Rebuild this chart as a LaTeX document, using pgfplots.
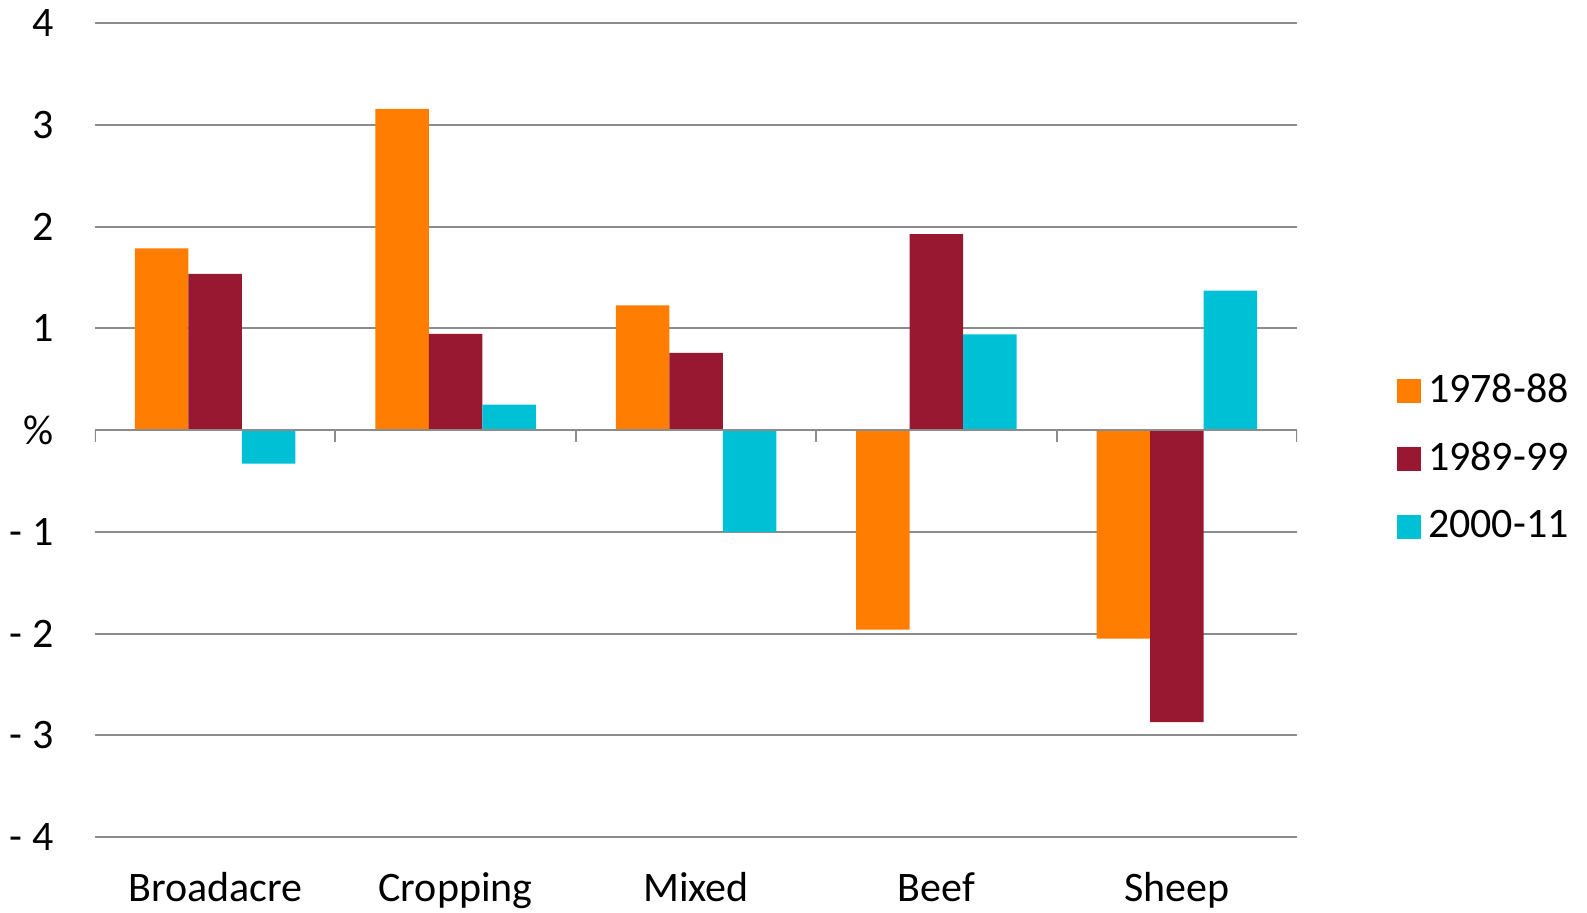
\documentclass[border=0pt]{standalone}
\usepackage{fontspec}
\setmainfont{Carlito}
\usepackage{pgfplots}
\pgfplotsset{compat=1.18}
\definecolor{cOrange}{RGB}{255,125,0}
\definecolor{cMaroon}{RGB}{151,24,48}
\definecolor{cCyan}{RGB}{0,192,214}
\definecolor{cGrid}{RGB}{140,140,140}

\begin{document}
\fontsize{21}{25}\selectfont
\begin{tikzpicture}
\begin{axis}[
  at={(47.5pt,37.5pt)}, anchor=south west,
  scale only axis, width=601pt, height=407pt,
  xmin=-0.5, xmax=4.5, ymin=-4, ymax=4,
  ybar=0pt, bar width=26.75pt,
  xtick={0,1,2,3,4},
  xticklabels={Broadacre,Cropping,Mixed,Beef,Sheep},
  ytick={-4,-3,-2,-1,0,1,2,3,4},
  yticklabels={- 4,- 3,- 2,- 1,\%,1,2,3,4},
  ymajorgrids,
  major grid style={cGrid, line width=1pt},
  axis line style={draw=none},
  tick style={draw=none},
  xticklabel style={anchor=base, yshift=-28pt, inner sep=0pt},
  yticklabel style={anchor=east, xshift=-20.5pt, inner sep=0pt},
  legend image code/.code={\fill[#1] (0pt,-6pt) rectangle (12pt,6pt);},
  legend style={draw=none, fill=none, at={(rel axis cs:1.0832,0.4647)},
    anchor=west, inner sep=0pt, outer sep=0pt,
    nodes={inner sep=0pt}, column sep=3.5pt, row sep=16.6pt},
  legend cell align=left,
]
% 1978-88
\addplot[fill=cOrange, draw=none] coordinates {
  (0,1.784) (1,3.157) (2,1.226) (3,-1.961) (4,-2.05)};
\addlegendentry{1978-88}
% 1989-99
\addplot[fill=cMaroon, draw=none] coordinates {
  (0,1.534) (1,0.944) (2,0.757) (3,1.924) (4,-2.87)};
\addlegendentry{1989-99}
% 2000-11
\addplot[fill=cCyan, draw=none] coordinates {
  (0,-0.331) (1,0.25) (2,-1.0) (3,0.94) (4,1.37)};
\addlegendentry{2000-11}

% zero line with category separators
\draw[cGrid, line width=1pt] (axis cs:-0.5,0) -- (axis cs:4.5,0);
\pgfplotsinvokeforeach{-0.5,0.5,1.5,2.5,3.5,4.5}{
  \draw[cGrid, line width=1pt] (axis cs:#1,0) -- ++(0pt,-6pt);}
\end{axis}
\pgfresetboundingbox
\useasboundingbox (0,0) rectangle (793.5pt,456pt);
\end{tikzpicture}
\end{document}
